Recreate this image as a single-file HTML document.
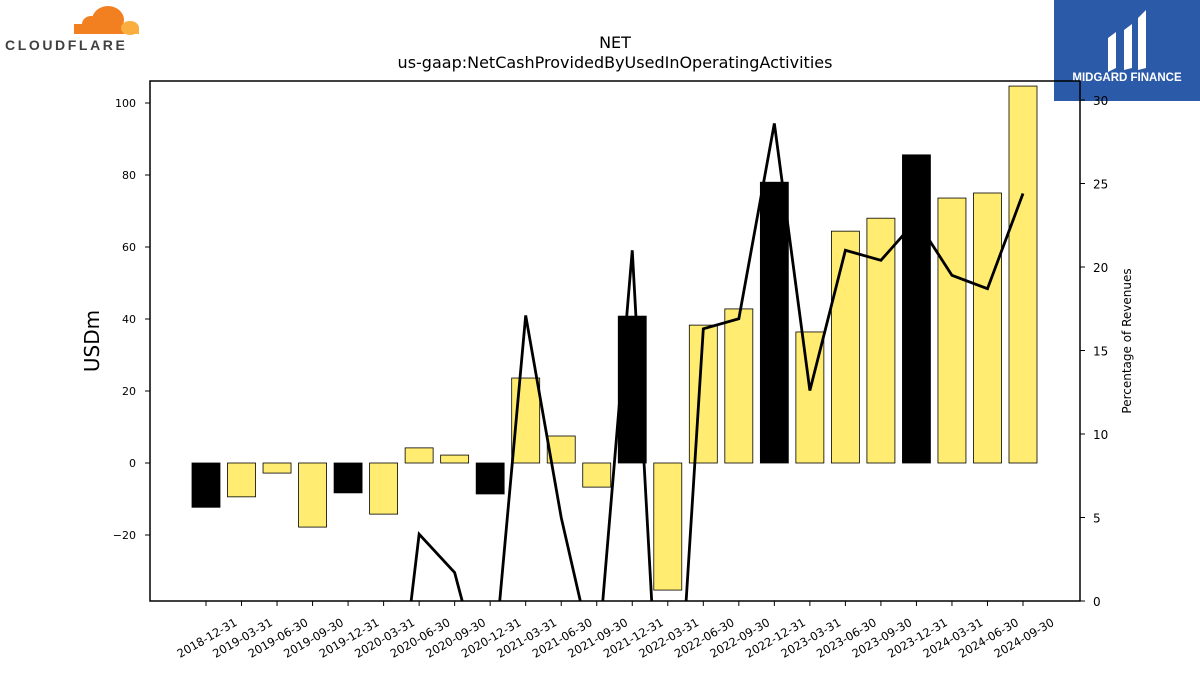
<!DOCTYPE html>
<html><head><meta charset="utf-8"><style>
html,body{margin:0;background:#fff;overflow:hidden;width:1200px;height:675px;font-family:"DejaVu Sans","Liberation Sans",sans-serif}
svg{display:block}
svg text{font-family:"DejaVu Sans","Liberation Sans",sans-serif}
</style></head><body>
<svg id="chart" width="1200" height="675" viewBox="0 0 1200 675" xmlns="http://www.w3.org/2000/svg">
<rect width="1200" height="675" fill="#fff"/>
<g>
<ellipse cx="108" cy="20" rx="16" ry="14" fill="#F38020"/>
<ellipse cx="91" cy="24" rx="9" ry="8" fill="#F38020"/>
<rect x="74" y="24" width="50" height="10" fill="#F38020"/>
<ellipse cx="130" cy="28" rx="9" ry="7" fill="#FAAE40"/>
<rect x="124" y="28" width="15" height="6" fill="#FAAE40"/>
<text x="5" y="50" font-size="14" font-weight="bold" fill="#404041" letter-spacing="2.6" style="font-family:'Liberation Sans',sans-serif">CLOUDFLARE</text>
</g>
<g>
<rect x="1054" y="0" width="146" height="101" fill="#2B5AA8"/>
<path d="M1108 38 l8 -6 v36 l-8 4z M1124 30 l8 -6 v44 l-8 2z M1138 18 l8 -8 v58 l-8 2z" fill="#fff"/>
<text x="1127" y="81" font-size="11.5" font-weight="bold" fill="#fff" text-anchor="middle" style="font-family:'Liberation Sans',sans-serif">MIDGARD FINANCE</text>
</g>
<text x="615" y="48" font-size="16" text-anchor="middle">NET</text>
<text x="615" y="68" font-size="16" text-anchor="middle">us-gaap:NetCashProvidedByUsedInOperatingActivities</text>
<defs><clipPath id="pc"><rect x="150" y="81" width="930" height="520"/></clipPath></defs>
<g id="bars" clip-path="url(#pc)"></g>
<g id="line" clip-path="url(#pc)"></g>
<rect x="150" y="81" width="930" height="520" fill="none" stroke="#000" stroke-width="1.5"/>
<g id="axes"></g>
<text transform="translate(99,341) rotate(-90)" font-size="20" text-anchor="middle">USDm</text>
<text transform="translate(1131,341) rotate(-90)" font-size="12" text-anchor="middle">Percentage of Revenues</text>
</svg>
<script>
const categories=["2018-12-31","2019-03-31","2019-06-30","2019-09-30","2019-12-31","2020-03-31","2020-06-30","2020-09-30","2020-12-31","2021-03-31","2021-06-30","2021-09-30","2021-12-31","2022-03-31","2022-06-30","2022-09-30","2022-12-31","2023-03-31","2023-06-30","2023-09-30","2023-12-31","2024-03-31","2024-06-30","2024-09-30"];
const cashFlow=[-12.3,-9.4,-2.8,-17.8,-8.3,-14.2,4.2,2.2,-8.6,23.6,7.5,-6.7,40.8,-35.3,38.3,42.8,78,36.4,64.4,68,85.6,73.6,75,104.7];
const highlight=[1,0,0,0,1,0,0,0,1,0,0,0,1,0,0,0,1,0,0,0,1,0,0,0];
const pctRevenue=[-20,-15,-5,-12,-8,-13.8,4.0,1.7,-6.3,17.1,5.0,-4.3,21.0,-17.4,16.3,16.9,28.6,12.6,21.0,20.4,22.8,19.5,18.7,24.4];
const leftTicks=[-20,0,20,40,60,80,100];
const rightTicks=[0,5,10,15,20,25,30];
const NS="http://www.w3.org/2000/svg";
const x=i=>206+i*(1023-206)/(categories.length-1);
const y=v=>463-v*3.6;
const y2=v=>601-v*16.7;
function mk(t,a,p){const e=document.createElementNS(NS,t);for(const k in a)e.setAttribute(k,a[k]);p.appendChild(e);return e;}
const bars=document.getElementById('bars'),line=document.getElementById('line'),axes=document.getElementById('axes');
cashFlow.forEach((v,i)=>{
 const r=mk('rect',{x:x(i)-14,y:Math.min(y(v),y(0)),width:28,height:Math.abs(y(v)-y(0)),fill:highlight[i]?'#000':'#FFEC70',stroke:'#000','stroke-width':0.8},bars);
 
 
});
const pl=mk('polyline',{points:pctRevenue.map((v,i)=>x(i)+','+y2(v)).join(' '),fill:'none',stroke:'#000','stroke-width':2.8,'stroke-linejoin':'miter'},line);


leftTicks.forEach(v=>{
 mk('line',{x1:145,x2:150,y1:y(v),y2:y(v),stroke:'#000'},axes);
 const t=mk('text',{x:136,y:y(v)+4,'font-size':11,'text-anchor':'end'},axes);t.textContent=v<0?'\u2212'+(-v):v;
 
 
});
rightTicks.forEach(v=>{
 mk('line',{x1:1080,x2:1085,y1:y2(v),y2:y2(v),stroke:'#000'},axes);
 const t=mk('text',{x:1093,y:y2(v)+5,'font-size':12},axes);t.textContent=v;
 
 
});
categories.forEach((c,i)=>{
 mk('line',{x1:x(i),x2:x(i),y1:601,y2:606,stroke:'#000'},axes);
 const t=mk('text',{transform:`translate(${x(i)+1},638) rotate(-30)`,'font-size':11.5,'text-anchor':'middle','dominant-baseline':'central'},axes);t.textContent=c;
 
 
});
</script>
</body></html>
